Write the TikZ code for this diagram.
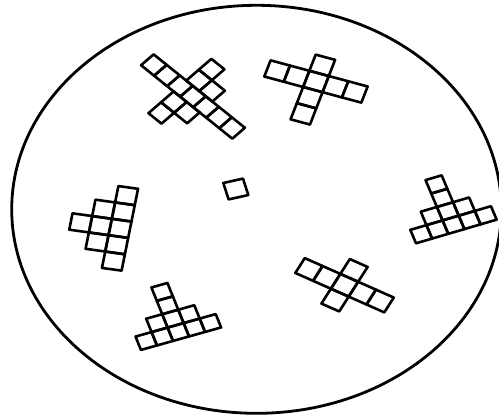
\documentclass[tikz,border=0pt]{standalone}
\usepackage{tikz}

\begin{document}
\begin{tikzpicture}[
  x=1pt, y=1pt, xscale=1.2, yscale=-1,
  dish/.style={line width=2.8pt},
  cell/.style={line width=2.6pt, line join=round},
]
  \useasboundingbox (0,0) rectangle (415.83,415);
  \draw[dish] (213.75,209.3) circle[radius=204];

  \begin{scope}[shift={(160.8,96.5)}, rotate=44, scale=15.1]
    \foreach \i/\j in {-3/0,-2/0,-1/0,0/0,1/0,2/0,3/0,-0.5/-2,-0.5/-1,0.5/-1,-0.5/1,0.5/1,-0.5/2}
      \draw[cell] ({\i-0.5},{\j-0.5}) rectangle ++(1,1);
  \end{scope}

  \begin{scope}[shift={(263.3,81.5)}, rotate=17.9, scale=17]
    \foreach \i/\j in {-2/0,-1/0,0/0,1/0,2/0,0/-1,0/1,0/2}
      \draw[cell] ({\i-0.5},{\j-0.5}) rectangle ++(1,1);
  \end{scope}

  \begin{scope}[shift={(100,228.35)}, rotate=-80.5, scale=16.6]
    \foreach \i/\j in {-2/0,-1/0,0/0,1/0,2/0,-1/-1,0/-1,1/-1,0/-2}
      \draw[cell] ({\i-0.5},{\j-0.5}) rectangle ++(1,1);
  \end{scope}

  \begin{scope}[shift={(196.5,189)}, rotate=-15, scale=17]
    \draw[cell] (-0.5,-0.5) rectangle ++(1,1);
  \end{scope}

  \begin{scope}[shift={(148.6,332)}, rotate=-18.6, scale=14.1]
    \foreach \i/\j in {-2/0,-1/0,0/0,1/0,2/0,-1/-1,0/-1,1/-1,0/-2,0/-3}
      \draw[cell] ({\i-0.5},{\j-0.5}) rectangle ++(1,1);
  \end{scope}

  \begin{scope}[shift={(287.1,285.25)}, rotate=28, scale=16.8]
    \foreach \i/\j in {-2/0,-1/0,0/0,1/0,2/0,0/-1,0/1}
      \draw[cell] ({\i-0.5},{\j-0.5}) rectangle ++(1,1);
  \end{scope}

  \begin{scope}[shift={(377.9,224.75)}, rotate=-19.4, scale=14.25]
    \foreach \i/\j in {-2/0,-1/0,0/0,1/0,2/0,-1/-1,0/-1,1/-1,0/-2,0/-3}
      \draw[cell] ({\i-0.5},{\j-0.5}) rectangle ++(1,1);
  \end{scope}
\end{tikzpicture}
\end{document}
